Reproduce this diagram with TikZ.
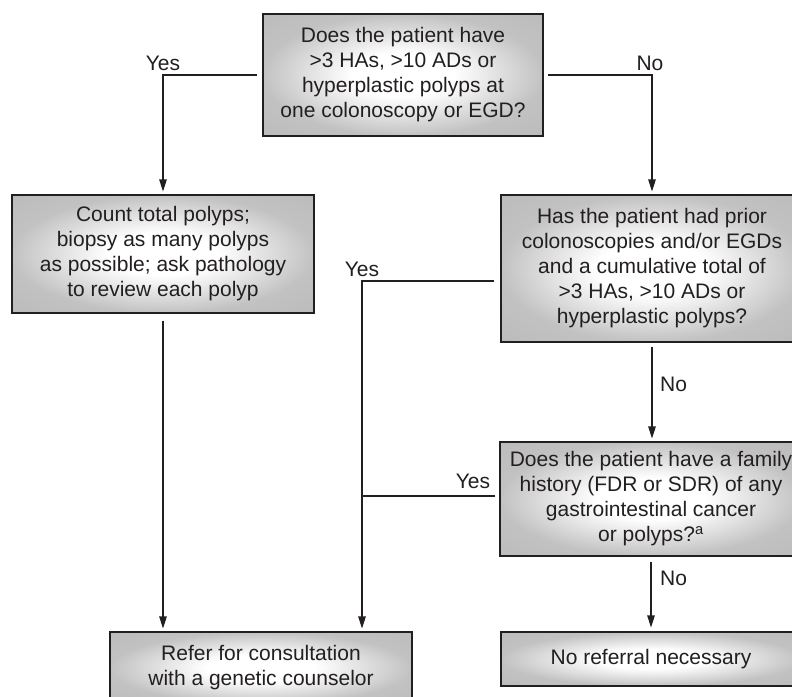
\documentclass[tikz,border=0pt]{standalone}
\usepackage{fontspec}
\setmainfont{Liberation Sans}
\usetikzlibrary{arrows.meta}
\pgfdeclareradialshading{boxshade}{\pgfpoint{0bp}{0bp}}{color(0bp)=(white); color(9bp)=(white); color(25bp)=(black!24); color(50bp)=(black!30)}
\definecolor{ink}{HTML}{231F20}
\tikzset{
  box/.style={draw=ink, line width=1.1pt, shade, shading=boxshade, align=center,
    font=\fontsize{21}{25}\selectfont, text=ink, inner sep=0pt},
  conn/.style={draw=ink, line width=1.1pt},
  arr/.style={conn, -{Triangle[length=12pt,width=7.5pt]}},
  lab/.style={font=\fontsize{21}{25}\selectfont, text=ink, inner sep=0pt}
}
\begin{document}
\begin{tikzpicture}[x=1pt,y=-1pt]
\clip (0,0) rectangle (792,696);
\fill[white] (0,0) rectangle (792,696);

\node[box, minimum width=280pt, minimum height=122pt] (b1) at (403,75)
  {Does the patient have\\>3 HAs, >10 ADs or\\hyperplastic polyps at\\one colonoscopy or EGD?};
\node[box, minimum width=302pt, minimum height=118pt] (b2) at (163,254)
  {Count total polyps;\\biopsy as many polyps\\as possible; ask pathology\\to review each polyp};
\node[box, minimum width=302pt, minimum height=147pt] (b3) at (652,268.5)
  {Has the patient had prior\\colonoscopies and/or EGDs\\and a cumulative total of\\>3 HAs, >10 ADs or\\hyperplastic polyps?};
\node[box, minimum width=302pt, minimum height=114pt] (b4) at (651,499)
  {Does the patient have a family\\history (FDR or SDR) of any\\gastrointestinal cancer\\or polyps?\textsuperscript{a}};
\node[box, minimum width=302pt, minimum height=72pt] (b5) at (261,668)
  {Refer for consultation\\with a genetic counselor};
\node[box, minimum width=300pt, minimum height=54pt] (b6) at (651,659)
  {No referral necessary};

\coordinate (j3) at (362,281);
\coordinate (j4) at (362,496);

\draw[arr, shorten <=5pt, shorten >=3pt] (b1.west) -| (b2.north);
\draw[arr, shorten <=4pt, shorten >=3pt] (b1.east) -| (b3.north);
\draw[arr, shorten <=6pt, shorten >=3pt] (b3.west |- j3) -- (j3) -- (j3 |- b5.north);
\draw[conn, shorten <=4pt] (b4.west |- j4) -- (j4);
\draw[arr, shorten <=7pt, shorten >=3pt] (b2.south) -- (b2.south |- b5.north);
\draw[arr, shorten <=4pt, shorten >=3pt] (b3.south) -- (b3.south |- b4.north);
\draw[arr, shorten <=5pt, shorten >=4pt] (b4.south) -- (b4.south |- b6.north);

\node[lab, anchor=base] (l1) at (163,70) {Yes};
\node[lab, anchor=base] (l2) at (650,70) {No};
\node[lab, anchor=base] (l3) at (362,276) {Yes};
\node[lab, anchor=base] (l4) at (473,488) {Yes};
\node[lab, anchor=base west] (l5) at (660,391) {No};
\node[lab, anchor=base west] (l6) at (660,585) {No};
\end{tikzpicture}
\end{document}
